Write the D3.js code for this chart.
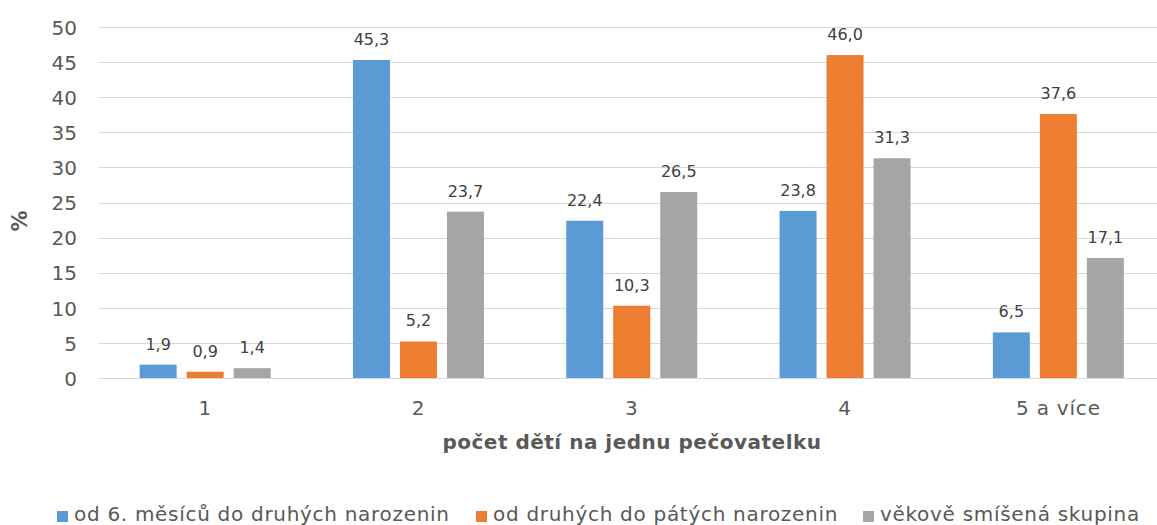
<!DOCTYPE html>
<html><head><meta charset="utf-8">
<script src="https://cdn.jsdelivr.net/npm/d3@7"></script>
<style>body{margin:0;background:#fff;}svg{display:block;font-family:"DejaVu Sans",Verdana,sans-serif;}</style>
</head><body>
<svg id="c" width="1157" height="525"></svg>
<script>
const categories = ["1", "2", "3", "4", "5 a více"];
const seriesNames = ["od 6. měsíců do druhých narozenin", "od druhých do pátých narozenin", "věkově smíšená skupina"];
const series1 = [1.9, 45.3, 22.4, 23.8, 6.5];
const series2 = [0.9, 5.2, 10.3, 46.0, 37.6];
const series3 = [1.4, 23.7, 26.5, 31.3, 17.1];
const yTicks = [0, 5, 10, 15, 20, 25, 30, 35, 40, 45, 50];
const colors = ["#5B9BD5", "#ED7D31", "#A5A5A5"];
const xTitle = "počet dětí na jednu pečovatelku";
const yTitle = "%";

const svg = d3.select("#c");
const allSeries = [series1, series2, series3];
const x = d3.scaleBand().domain(categories).range([98.5, 1165]).paddingInner(0).paddingOuter(0);
const y = d3.scaleLinear().domain([0, 50]).range([378, 27]);
const barW = 37, gap = 10;
const groupW = 3 * barW + 2 * gap;

// gridlines
svg.append("g").selectAll("line").data(yTicks).join("line")
  .attr("x1", 98.5).attr("x2", 1165)
  .attr("y1", d => Math.round(y(d)) + 0.5).attr("y2", d => Math.round(y(d)) + 0.5)
  .attr("stroke", "#D9D9D9").attr("stroke-width", 1.2);

// y tick labels
const yAxis = svg.append("g").attr("transform", "translate(77,0)")
  .call(d3.axisLeft(y).tickValues(yTicks).tickSize(0).tickPadding(0));
yAxis.select(".domain").remove();
yAxis.selectAll("text").attr("font-size", 20).attr("fill", "#595959").attr("dy", "0.36em")
  .attr("font-family", "DejaVu Sans, Verdana, sans-serif");

// bars
allSeries.forEach((s, si) => {
  const g = svg.append("g");
  g.selectAll("rect").data(s).join("rect")
    .attr("x", (d, i) => x(categories[i]) + x.bandwidth() / 2 - groupW / 2 + si * (barW + gap))
    .attr("y", d => y(d))
    .attr("width", barW)
    .attr("height", d => y(0) - y(d))
    .attr("fill", colors[si]);
  g.selectAll("text").data(s).join("text")
    .attr("x", (d, i) => x(categories[i]) + x.bandwidth() / 2 - groupW / 2 + si * (barW + gap) + barW / 2)
    .attr("y", d => y(d) - 15)
    .attr("text-anchor", "middle")
    .attr("font-size", 16).attr("fill", "#404040")
    .text(d => d.toFixed(1).replace(".", ","));
});

// x labels
const xAxis = svg.append("g").attr("transform", "translate(0,378)")
  .call(d3.axisBottom(x).tickSize(0).tickPadding(0));
xAxis.select(".domain").remove();
xAxis.selectAll("text").attr("font-size", 20).attr("fill", "#595959")
  .attr("y", 37).attr("dy", 0).attr("letter-spacing", 0.8)
  .attr("font-family", "DejaVu Sans, Verdana, sans-serif");

// axis titles
svg.append("text").attr("x", 632).attr("y", 449).attr("text-anchor", "middle")
  .attr("font-size", 20).attr("font-weight", "bold").attr("letter-spacing", 0.5)
  .attr("fill", "#595959").text(xTitle);
svg.append("text").attr("transform", "translate(27,221) rotate(-90)").attr("text-anchor", "middle")
  .attr("font-size", 21).attr("font-weight", "bold").attr("fill", "#595959").text(yTitle);

// legend
const legendTextX = [74, 493, 880];
const lg = svg.append("g");
seriesNames.forEach((n, i) => {
  lg.append("rect").attr("x", legendTextX[i] - 17).attr("y", 511).attr("width", 11).attr("height", 11).attr("fill", colors[i]);
  lg.append("text").attr("x", legendTextX[i]).attr("y", 521).attr("font-size", 20).attr("letter-spacing", 0.7)
    .attr("fill", "#595959").text(n);
});
</script>
</body></html>
